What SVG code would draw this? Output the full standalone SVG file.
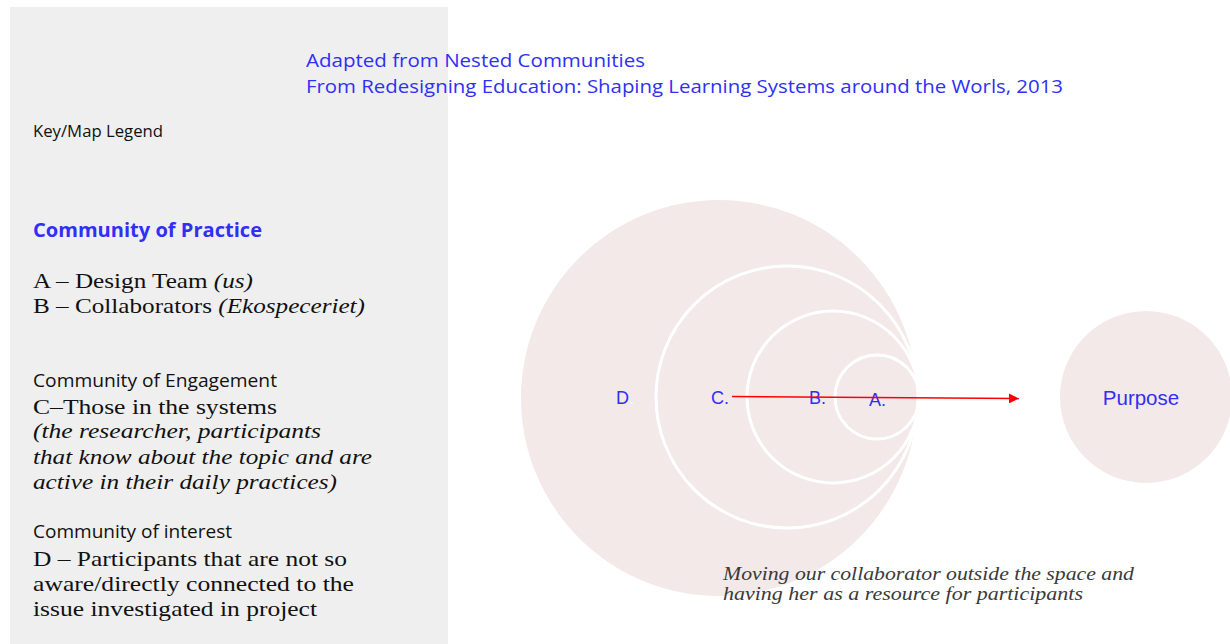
<svg xmlns="http://www.w3.org/2000/svg" width="1230" height="644" viewBox="0 0 1230 644">
  <style>
    .sans { font-family: "Open Sans", "Noto Sans", "Liberation Sans", sans-serif; }
    .serif { font-family: "Liberation Serif", "DejaVu Serif", serif; fill: #111; }
    .it { font-style: italic; }
    .blue { fill: #2f2ff5; }
    .lbl { font-family: "Liberation Sans", Arial, sans-serif; font-size: 18px; fill: #2f2ff5; }
    .ring { fill: none; stroke: #ffffff; stroke-width: 3; }
    .disc { fill: #f3e9e9; }
  </style>
  <defs>
    <marker id="arrowhead" markerWidth="10" markerHeight="10" refX="10" refY="5" orient="auto" markerUnits="userSpaceOnUse">
      <path d="M0,0 L10,5 L0,10 Z" fill="#ff0000"/>
    </marker>
  </defs>

  <rect width="1230" height="644" fill="#ffffff"/>

  <!-- legend panel -->
  <g id="legend">
    <rect x="10" y="7" width="438" height="637" fill="#efefef"/>
    <text class="sans" x="33" y="137" font-size="16" fill="#111" textLength="130" lengthAdjust="spacingAndGlyphs">Key/Map Legend</text>

    <text class="sans blue" x="33" y="237" font-size="19" font-weight="bold" textLength="229" lengthAdjust="spacingAndGlyphs">Community of Practice</text>
    <text class="serif" x="33" y="288" font-size="21" textLength="220" lengthAdjust="spacingAndGlyphs">A – Design Team <tspan class="it">(us)</tspan></text>
    <text class="serif" x="33" y="313" font-size="21" textLength="332" lengthAdjust="spacingAndGlyphs">B – Collaborators <tspan class="it">(Ekospeceriet)</tspan></text>

    <text class="sans" x="33" y="387" font-size="17.5" fill="#111" textLength="244" lengthAdjust="spacingAndGlyphs">Community of Engagement</text>
    <text class="serif" x="33" y="414" font-size="21" textLength="244" lengthAdjust="spacingAndGlyphs">C–Those in the systems</text>
    <text class="serif it" x="33" y="438" font-size="20" textLength="288" lengthAdjust="spacingAndGlyphs">(the researcher, participants</text>
    <text class="serif it" x="33" y="464" font-size="20" textLength="339" lengthAdjust="spacingAndGlyphs">that know about the topic and are</text>
    <text class="serif it" x="33" y="489" font-size="20" textLength="304" lengthAdjust="spacingAndGlyphs">active in their daily practices)</text>

    <text class="sans" x="33" y="538" font-size="17.5" fill="#111" textLength="199" lengthAdjust="spacingAndGlyphs">Community of interest</text>
    <text class="serif" x="33" y="566" font-size="21" textLength="314" lengthAdjust="spacingAndGlyphs">D – Participants that are not so</text>
    <text class="serif" x="33" y="591" font-size="21" textLength="321" lengthAdjust="spacingAndGlyphs">aware/directly connected to the</text>
    <text class="serif" x="33" y="616" font-size="21" textLength="284" lengthAdjust="spacingAndGlyphs">issue investigated in project</text>
  </g>

  <!-- source note -->
  <g id="source">
    <text class="sans blue" x="306" y="67" font-size="19" textLength="339" lengthAdjust="spacingAndGlyphs">Adapted from Nested Communities</text>
    <text class="sans blue" x="306" y="93" font-size="19" textLength="757" lengthAdjust="spacingAndGlyphs">From Redesigning Education: Shaping Learning Systems around the Worls, 2013</text>
  </g>

  <!-- nested communities -->
  <g id="node-d">
    <circle class="disc" cx="719" cy="398" r="198"/>
    <text class="lbl" x="616" y="404">D<tspan fill="#ffffff">.</tspan></text>
  </g>
  <g id="node-c">
    <circle class="ring" cx="787" cy="397" r="131"/>
    <text class="lbl" x="711" y="404">C.</text>
  </g>
  <g id="node-b">
    <circle class="ring" cx="833" cy="397" r="86"/>
    <text class="lbl" x="809" y="404">B.</text>
  </g>
  <g id="node-a">
    <circle class="ring" cx="877" cy="397" r="42"/>
    <text class="lbl" x="869" y="406">A.</text>
  </g>

  <g id="node-purpose">
    <circle class="disc" cx="1146" cy="397" r="86"/>
    <text x="1141" y="405" text-anchor="middle" font-family="Liberation Sans, Arial, sans-serif" font-size="20.5" fill="#2f2ff5">Purpose</text>
  </g>

  <g id="connectors">
    <line x1="732" y1="396.5" x2="1019" y2="398.5" stroke="#ff0000" stroke-width="1.5" marker-end="url(#arrowhead)"/>
  </g>

  <g id="caption">
    <text class="serif it" x="723" y="580" font-size="18" style="fill:#3a3a3a" textLength="411" lengthAdjust="spacingAndGlyphs">Moving our collaborator outside the space and</text>
    <text class="serif it" x="723" y="600" font-size="18" style="fill:#3a3a3a" textLength="360" lengthAdjust="spacingAndGlyphs">having her as a resource for participants</text>
  </g>
</svg>
